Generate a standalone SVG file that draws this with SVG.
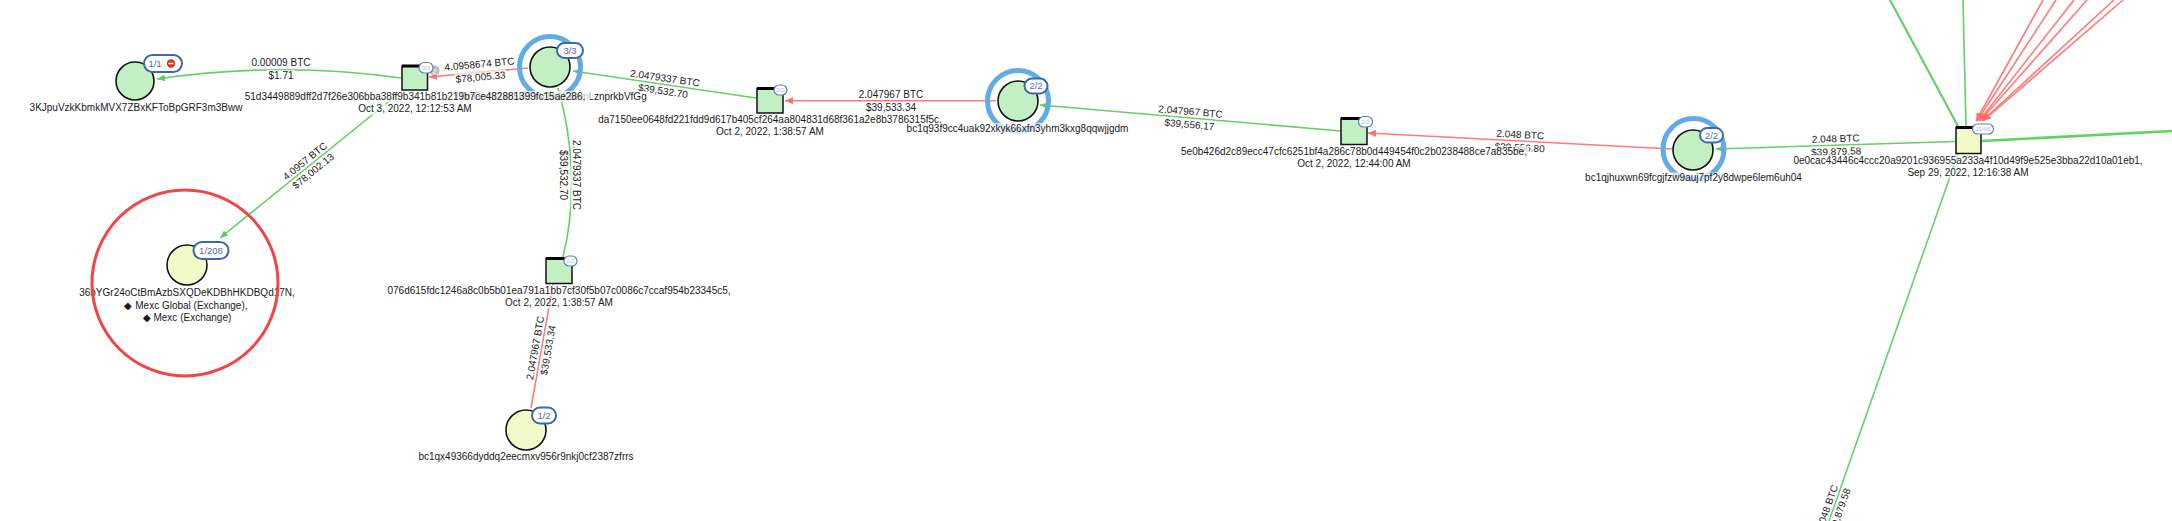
<svg xmlns="http://www.w3.org/2000/svg" width="2172" height="521" viewBox="0 0 2172 521">
<style>
.t{font-family:"Liberation Sans",Arial,sans-serif;font-size:10px;fill:#1a1a1a;text-anchor:middle}
.bg{fill:#fff;fill-opacity:0.7}
.g{stroke:#63d263;stroke-width:1.6;fill:none}
.r{stroke:#ff7b7b;stroke-width:1.6;fill:none}
.ga{marker-end:url(#ag)}
.ra{marker-end:url(#ar)}
.addr{fill:#c2f0c2;stroke:#111;stroke-width:1.6}
.yel{fill:#f1fac8;stroke:#111;stroke-width:1.6}
.ring{fill:none;stroke:#62abe6;stroke-width:5}
.tx{fill:#c2f0c2;stroke:#111;stroke-width:1.5}
.txy{fill:#f1fac8;stroke:#111;stroke-width:1.5}
.top{stroke:#000;stroke-width:3}
.pill{fill:#fff;stroke:#3e67ad;stroke-width:2}
.pt{font-family:"Liberation Sans",Arial,sans-serif;font-size:9.5px;fill:#4a6fb3;text-anchor:middle}
.tp{fill:#fff;stroke:#5a7fc2;stroke-width:1.2}
.tpt{font-family:"Liberation Sans",Arial,sans-serif;font-size:6px;fill:#aabbe0;text-anchor:middle}
</style>
<defs>
<marker id="ag" markerUnits="userSpaceOnUse" markerWidth="9" markerHeight="8" refX="8" refY="3.5" orient="auto"><path d="M0,0 L8,3.5 L0,7 z" fill="#5ccf5c"/></marker>
<marker id="ar" markerUnits="userSpaceOnUse" markerWidth="9" markerHeight="8" refX="8" refY="3.5" orient="auto"><path d="M0,0 L8,3.5 L0,7 z" fill="#ff6f6f"/></marker>
</defs>
<rect width="2172" height="521" fill="#fff"/>
<g id="connectors">
<path class="g ga" d="M401 78 Q280 61 157 79"/>
<path class="r ra" d="M528 68 L429 77"/>
<path class="g ga" d="M398 94 L220 238"/>
<path class="g ga" d="M756 98 L573 71"/>
<path class="g" d="M558 88 C573 140 577 200 563 257"/>
<path class="r" d="M531 408 L553 284"/>
<path class="r ra" d="M996 100.7 L785 100.7"/>
<path class="g ga" d="M1341 131 L1040 105"/>
<path class="r ra" d="M1672 149 L1368 133"/>
<path class="g ga" d="M1955 141.5 L1716 149"/>
<path class="g" style="stroke-width:2.2" d="M1959 128 L1890 0"/>
<path class="g" d="M1966 127 L1963 0"/>
<path class="g" style="stroke-width:2.6" d="M1982 141 L2172 131"/>
<path class="g" d="M1958 154 L1829 521"/>
<path class="r ra" d="M2043 0 L1976 121"/>
<path class="r ra" d="M2056 0 L1977 121"/>
<path class="r ra" d="M2074 0 L1979 121"/>
<path class="r ra" d="M2087 0 L1980 121"/>
<path class="r ra" d="M2114 0 L1982 121"/>
<path class="r ra" d="M2123 0 L1983 121"/>
<g id="edge-labels">
<g transform="translate(281,69)"><rect class="bg" x="-31" y="-12" width="62" height="11"/><text class="t" y="-3">0.00009 BTC</text><rect class="bg" x="-14" y="1" width="28" height="11"/><text class="t" y="10">$1.71</text></g>
<g transform="translate(480,70.5) rotate(-5.2)"><rect class="bg" x="-37" y="-12" width="74" height="11"/><text class="t" y="-3">4.0958674 BTC</text><rect class="bg" x="-26" y="1" width="52" height="11"/><text class="t" y="10">$78,005.33</text></g>
<g transform="translate(309,166) rotate(-39)"><rect class="bg" x="-29" y="-12" width="58" height="11"/><text class="t" y="-3">4.0957 BTC</text><rect class="bg" x="-26" y="1" width="52" height="11"/><text class="t" y="10">$78,002.13</text></g>
<g transform="translate(664,84.5) rotate(8.4)"><rect class="bg" x="-37" y="-12" width="74" height="11"/><text class="t" y="-3">2.0479337 BTC</text><rect class="bg" x="-26" y="1" width="52" height="11"/><text class="t" y="10">$39,532.70</text></g>
<g transform="translate(570,175) rotate(90)"><rect class="bg" x="-37" y="-12" width="74" height="11"/><text class="t" y="-3">2.0479337 BTC</text><rect class="bg" x="-26" y="1" width="52" height="11"/><text class="t" y="10">$39,532.70</text></g>
<g transform="translate(541.5,349) rotate(-80)"><rect class="bg" x="-34" y="-12" width="68" height="11"/><text class="t" y="-3">2.047967 BTC</text><rect class="bg" x="-26" y="1" width="52" height="11"/><text class="t" y="10">$39,533.34</text></g>
<g transform="translate(891,101)"><rect class="bg" x="-34" y="-12" width="68" height="11"/><text class="t" y="-3">2.047967 BTC</text><rect class="bg" x="-26" y="1" width="52" height="11"/><text class="t" y="10">$39,533.34</text></g>
<g transform="translate(1190,118) rotate(4.9)"><rect class="bg" x="-34" y="-12" width="68" height="11"/><text class="t" y="-3">2.047967 BTC</text><rect class="bg" x="-26" y="1" width="52" height="11"/><text class="t" y="10">$39,556.17</text></g>
<g transform="translate(1520,141) rotate(3)"><rect class="bg" x="-26" y="-12" width="52" height="11"/><text class="t" y="-3">2.048 BTC</text><rect class="bg" x="-26" y="1" width="52" height="11"/><text class="t" y="10">$39,556.80</text></g>
<g transform="translate(1836,145) rotate(-1.8)"><rect class="bg" x="-26" y="-12" width="52" height="11"/><text class="t" y="-3">2.048 BTC</text><rect class="bg" x="-26" y="1" width="52" height="11"/><text class="t" y="10">$39,879.58</text></g>
<g transform="translate(1833,510) rotate(-70.4)"><rect class="bg" x="-26" y="-12" width="52" height="11"/><text class="t" y="-3">2.048 BTC</text><rect class="bg" x="-26" y="1" width="52" height="11"/><text class="t" y="10">$39,879.58</text></g>
</g>
</g>
<g id="node-A">
<circle class="addr" cx="135" cy="81" r="19"/>
<rect class="pill" x="144" y="55" width="38" height="17" rx="8.5"/>
<text class="pt" x="155" y="67">1/1</text>
<circle cx="171" cy="63.5" r="4.2" fill="#d9361e"/>
<line x1="168.5" y1="63.5" x2="173.5" y2="63.5" stroke="#fff" stroke-width="1.5"/>
<rect class="bg" x="28" y="102" width="216" height="11"/>
<text class="t" x="136" y="110.5">3KJpuVzkKbmkMVX7ZBxKFToBpGRF3m3Bww</text>
</g>
<g id="node-B">
<circle class="ring" cx="550" cy="67" r="30.5"/>
<circle class="addr" cx="550" cy="67" r="20"/>
<rect class="pill" x="557" y="43" width="26" height="15" rx="7.5"/>
<text class="pt" x="570" y="53.8">3/3</text>
<rect class="bg" x="450" y="91" width="200" height="11"/>
<text class="t" x="550" y="99.5">3TmGhz21xb5i65YV1h1K6emLznprkbVfGg</text>
</g>
<g id="node-tx-51d3">
<rect class="tx" x="402" y="66" width="25.5" height="24"/>
<line class="top" x1="402" y1="66" x2="427.5" y2="66"/>
<circle cx="434.5" cy="70.5" r="5" fill="#b8b8b8"/>
<text class="t" x="434.5" y="73.5" style="font-size:8px;fill:#fff">2</text>
<rect class="tp" x="419" y="62.5" width="14" height="10.5" rx="5.25"/>
<text class="tpt" x="426" y="69.8">3/3</text>
<rect class="bg" x="240" y="91.5" width="350" height="11"/>
<text class="t" x="415" y="100">51d3449889dff2d7f26e306bba38ff9b341b81b219b7ce482881399fc15ae286,</text>
<rect class="bg" x="358" y="104" width="114" height="11"/>
<text class="t" x="415" y="112.3">Oct 3, 2022, 12:12:53 AM</text>
</g>
<g id="node-C">
<circle class="yel" cx="187" cy="265" r="20"/>
<rect class="pill" x="193.5" y="242" width="35" height="17" rx="8.5"/>
<text class="pt" x="211" y="253.8">1/208</text>
<text class="t" x="187" y="296.3">36bYGr24oCtBmAzbSXQDeKDBhHKDBQd17N,</text>
<text class="t" x="186" y="308.6">◆ Mexc Global (Exchange),</text>
<text class="t" x="187" y="321">◆ Mexc (Exchange)</text>
<circle cx="185" cy="283" r="93" fill="none" stroke="#f44343" stroke-width="3"/>
</g>
<g id="node-tx-da7150">
<rect class="tx" x="757" y="88.5" width="26" height="24.5"/>
<line class="top" x1="757" y1="88.5" x2="783" y2="88.5"/>
<rect class="tp" x="774" y="85" width="13" height="10" rx="5"/>
<text class="tpt" x="780.5" y="92">2/2</text>
<rect class="bg" x="595" y="114.5" width="350" height="11"/>
<text class="t" x="770" y="123">da7150ee0648fd221fdd9d617b405cf264aa804831d68f361a2e8b3786315f5c,</text>
<rect class="bg" x="716" y="127" width="108" height="11"/>
<text class="t" x="770" y="135.3">Oct 2, 2022, 1:38:57 AM</text>
</g>
<g id="node-tx-076d">
<rect class="tx" x="546" y="258.5" width="26" height="25"/>
<line class="top" x1="546" y1="258.5" x2="572" y2="258.5"/>
<rect class="tp" x="564" y="256" width="13" height="10" rx="5"/>
<text class="tpt" x="570.5" y="263">2/2</text>
<rect class="bg" x="384" y="285" width="350" height="11"/>
<text class="t" x="559" y="293.5">076d615fdc1246a8c0b5b01ea791a1bb7cf30f5b07c0086c7ccaf954b23345c5,</text>
<rect class="bg" x="505" y="297.5" width="108" height="11"/>
<text class="t" x="559" y="305.8">Oct 2, 2022, 1:38:57 AM</text>
</g>
<g id="node-E">
<circle class="yel" cx="526" cy="430" r="20"/>
<rect class="pill" x="532" y="407.5" width="24" height="16" rx="8"/>
<text class="pt" x="544" y="418.8">1/2</text>
<rect class="bg" x="414" y="452" width="224" height="11"/>
<text class="t" x="526" y="460.3">bc1qx49366dyddq2eecmxv956r9nkj0cf2387zfrrs</text>
</g>
<g id="node-G">
<circle class="ring" cx="1018" cy="101" r="30.5"/>
<circle class="addr" cx="1018" cy="101" r="20"/>
<rect class="pill" x="1024.5" y="78.5" width="23" height="15" rx="7.5"/>
<text class="pt" x="1036" y="89.3">2/2</text>
<rect class="bg" x="903" y="123" width="229" height="11"/>
<text class="t" x="1017.5" y="131.5">bc1q93f9cc4uak92xkyk66xfn3yhm3kxg8qqwjjgdm</text>
</g>
<g id="node-tx-5e0b">
<rect class="tx" x="1341" y="118.5" width="26" height="26"/>
<line class="top" x1="1341" y1="118.5" x2="1367" y2="118.5"/>
<rect class="tp" x="1358.5" y="116.5" width="14" height="10.5" rx="5.25"/>
<text class="tpt" x="1365.5" y="123.8">2/2</text>
<rect class="bg" x="1179" y="146" width="350" height="11"/>
<text class="t" x="1354" y="154.5">5e0b426d2c89ecc47cfc6251bf4a286c78b0d449454f0c2b0238488ce7a835be,</text>
<rect class="bg" x="1297" y="158.5" width="114" height="11"/>
<text class="t" x="1354" y="166.8">Oct 2, 2022, 12:44:00 AM</text>
</g>
<g id="node-I">
<circle class="ring" cx="1693.5" cy="149" r="30.5"/>
<circle class="addr" cx="1693" cy="150" r="20"/>
<rect class="pill" x="1700" y="128" width="23" height="14.5" rx="7.25"/>
<text class="pt" x="1711.5" y="138.5">2/2</text>
<rect class="bg" x="1580" y="172.5" width="227" height="11"/>
<text class="t" x="1693.5" y="181">bc1qjhuxwn69fcgjfzw9auj7pf2y8dwpe6lem6uh04</text>
</g>
<g id="node-tx-0e0cac">
<rect class="txy" x="1956" y="127.5" width="25" height="26"/>
<line class="top" x1="1956" y1="127.5" x2="1981" y2="127.5"/>
<rect class="tp" x="1972.5" y="124" width="21" height="10" rx="5"/>
<text class="tpt" x="1983" y="131.2">11/48</text>
<rect class="bg" x="1791" y="155" width="354" height="11"/>
<text class="t" x="1968" y="163.5">0e0cac43446c4ccc20a9201c936955a233a4f10d49f9e525e3bba22d10a01eb1,</text>
<rect class="bg" x="1908" y="167.5" width="120" height="11"/>
<text class="t" x="1968" y="175.8">Sep 29, 2022, 12:16:38 AM</text>
</g>
</svg>
